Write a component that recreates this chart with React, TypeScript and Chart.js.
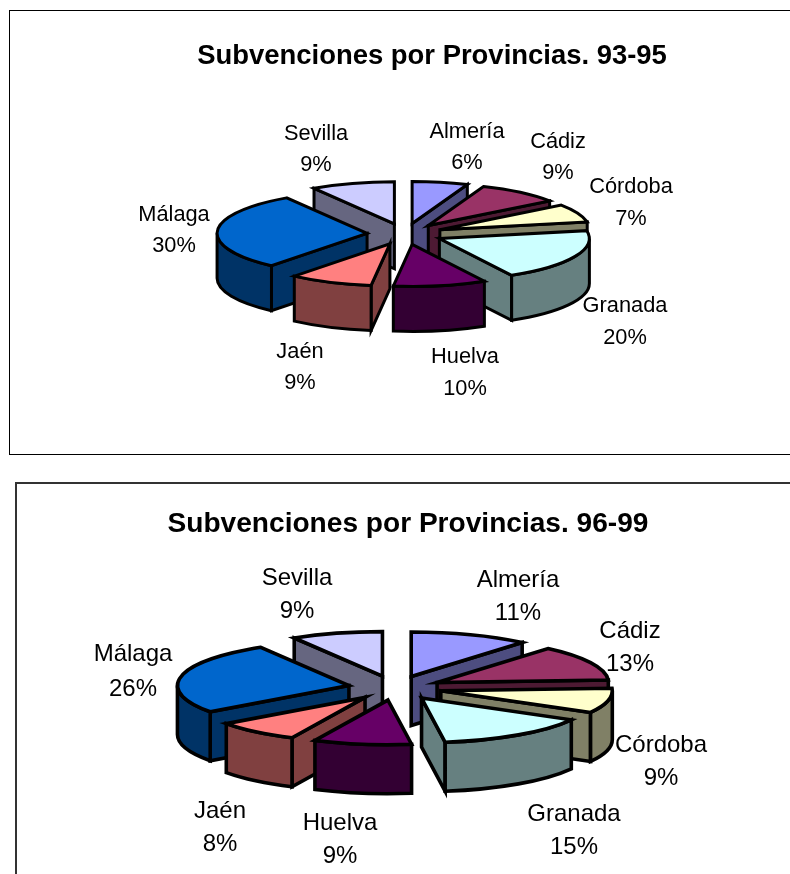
import React, { useEffect, useRef } from "react";
import { Chart, registerables } from "chart.js";

Chart.register(...registerables);

const categories = ["Almería", "Cádiz", "Córdoba", "Granada", "Huelva", "Jaén", "Málaga", "Sevilla"];
const values9395 = [6, 9, 7, 20, 10, 9, 30, 9];
const values9699 = [11.2, 12.9, 9, 14.7, 9.2, 8, 26.4, 8.6];
const title9395 = "Subvenciones por Provincias. 93-95";
const title9699 = "Subvenciones por Provincias. 96-99";

const topColors = ["#9999FF", "#993366", "#FFFFCC", "#CCFFFF", "#660066", "#FF8080", "#0066CC", "#CCCCFF"];
const sideColors = ["#4D4D80", "#4D1A33", "#808066", "#668080", "#330033", "#804040", "#003366", "#666680"];

const labelFont = "Arial, 'Liberation Sans', sans-serif";

// [centre x, first line y, second line y] of each label, in canvas pixels
const labels9395 = [
  [467, 132, 163], [558, 142, 173], [631, 187, 219], [625, 306, 338],
  [465, 357, 389], [300, 352, 383], [174, 215, 246], [316, 134, 165],
];
const labels9699 = [
  [518, 120, 153], [630, 171, 204], [661, 285, 318], [574, 354, 387],
  [340, 363, 396], [220, 351, 384], [133, 194, 229], [297, 118, 151],
];

const pie3d = {
  id: "pie3d",
  beforeDatasetsDraw(chart: any, _a: any, o: any) {
    const ctx = chart.ctx;
    const meta = chart.getDatasetMeta(0);
    const order = meta.data
      .map((arc: any, i: number) => ({ arc, i }))
      .sort(
        (p: any, q: any) =>
          Math.sin((p.arc.startAngle + p.arc.endAngle) / 2) - Math.sin((q.arc.startAngle + q.arc.endAngle) / 2)
      );
    for (const { arc, i } of order) {
      const a = arc.startAngle;
      const b = arc.endAngle;
      const mid = (a + b) / 2;
      const r = arc.outerRadius;
      const ry = r * o.yScale;
      const cx = o.cx + Math.cos(mid) * o.explode;
      const cy = o.cy + Math.sin(mid) * o.explode * o.yScale;
      const px = (t: number) => cx + r * Math.cos(t);
      const py = (t: number) => cy + ry * Math.sin(t);
      ctx.save();
      ctx.lineWidth = o.lineWidth;
      ctx.strokeStyle = "#000";
      ctx.lineJoin = "miter";
      ctx.fillStyle = sideColors[i];
      const quad = (t: number) => {
        ctx.beginPath();
        ctx.moveTo(cx, cy);
        ctx.lineTo(px(t), py(t));
        ctx.lineTo(px(t), py(t) + o.depth);
        ctx.lineTo(cx, cy + o.depth);
        ctx.closePath();
        ctx.fill();
        ctx.stroke();
      };
      if (Math.cos(a) < 0) quad(a);
      if (Math.cos(b) > 0) quad(b);
      const s = Math.max(a, 0);
      const e = Math.min(b, Math.PI);
      if (e > s) {
        ctx.beginPath();
        ctx.ellipse(cx, cy, r, ry, 0, s, e);
        ctx.ellipse(cx, cy + o.depth, r, ry, 0, e, s, true);
        ctx.closePath();
        ctx.fill();
        ctx.stroke();
      }
      // top face: the library's arc, moved out and flattened to the pie's tilt
      ctx.save();
      ctx.translate(cx - arc.x, cy);
      ctx.scale(1, o.yScale);
      ctx.translate(0, -arc.y);
      arc.draw(ctx);
      ctx.restore();
      ctx.beginPath();
      ctx.moveTo(cx, cy);
      ctx.ellipse(cx, cy, r, ry, 0, a, b);
      ctx.closePath();
      ctx.stroke();
      ctx.restore();
    }
    return false;
  },
  afterDraw(chart: any, _a: any, o: any) {
    const ctx = chart.ctx;
    const values = chart.data.datasets[0].data;
    ctx.save();
    ctx.fillStyle = "#000";
    ctx.textAlign = "center";
    ctx.textBaseline = "middle";
    ctx.font = `${o.labelSize}px ${labelFont}`;
    chart.data.labels.forEach((name: string, i: number) => {
      const [x, y1, y2] = o.labels[i];
      ctx.fillText(name, x, y1);
      ctx.fillText(`${Math.round(values[i])}%`, x, y2);
    });
    ctx.restore();
  },
};

function Pie(props: any) {
  const ref = useRef<HTMLCanvasElement>(null);
  useEffect(() => {
    const chart = new Chart(ref.current as any, {
      type: "pie",
      plugins: [pie3d],
      data: {
        labels: categories,
        datasets: [
          {
            data: props.values,
            backgroundColor: topColors,
            borderWidth: 0,
            offset: 0,
            radius: props.radius,
          } as any,
        ],
      },
      options: {
        animation: false,
        responsive: false,
        events: [],
        layout: { padding: { left: props.titleCx * 2 - props.width, right: 0, top: 0, bottom: 0 } },
        plugins: {
          legend: { display: false },
          tooltip: { enabled: false },
          title: {
            display: true,
            text: props.title,
            color: "#000",
            font: { family: labelFont, size: props.titleSize, weight: "bold" },
            padding: { top: props.titleTop, bottom: 0 },
          },
          pie3d: {
            cx: props.cx,
            cy: props.cy,
            explode: props.explode,
            yScale: props.yScale,
            depth: props.depth,
            lineWidth: props.lineWidth,
            labels: props.labels,
            labelSize: props.labelSize,
          },
        } as any,
      },
    } as any);
    return () => chart.destroy();
  }, []);
  return (
    <canvas
      ref={ref}
      width={props.width}
      height={props.height}
      style={{ position: "absolute", left: 0, top: props.top, width: props.width, height: props.height }}
    />
  );
}

export default function App() {
  return (
    <div style={{ position: "fixed", left: 0, top: 0, width: 790, height: 874, overflow: "hidden", background: "#fff" }}>
      <div
        style={{
          position: "absolute", left: 9, top: 10, width: 800, height: 443, boxSizing: "content-box",
          borderLeft: "1px solid #000", borderTop: "1px solid #000", borderBottom: "1px solid #000",
        }}
      />
      <div
        style={{
          position: "absolute", left: 15, top: 482, width: 800, height: 500,
          borderLeft: "2px solid #333", borderTop: "2px solid #333",
        }}
      />
      <Pie
        top={0} width={790} height={460} values={values9395} title={title9395} labels={labels9395}
        titleCx={432} titleSize={27.45} titleTop={40} labelSize={21.8}
        cx={405} cy={234} radius={150} explode={38} yScale={0.28} depth={45} lineWidth={3}
      />
      <Pie
        top={460} width={790} height={414} values={values9699} title={title9699} labels={labels9699}
        titleCx={408} titleSize={28.1} titleTop={47} labelSize={24}
        cx={395} cy={228} radius={171.5} explode={47} yScale={0.26} depth={49} lineWidth={3.6}
      />
    </div>
  );
}
